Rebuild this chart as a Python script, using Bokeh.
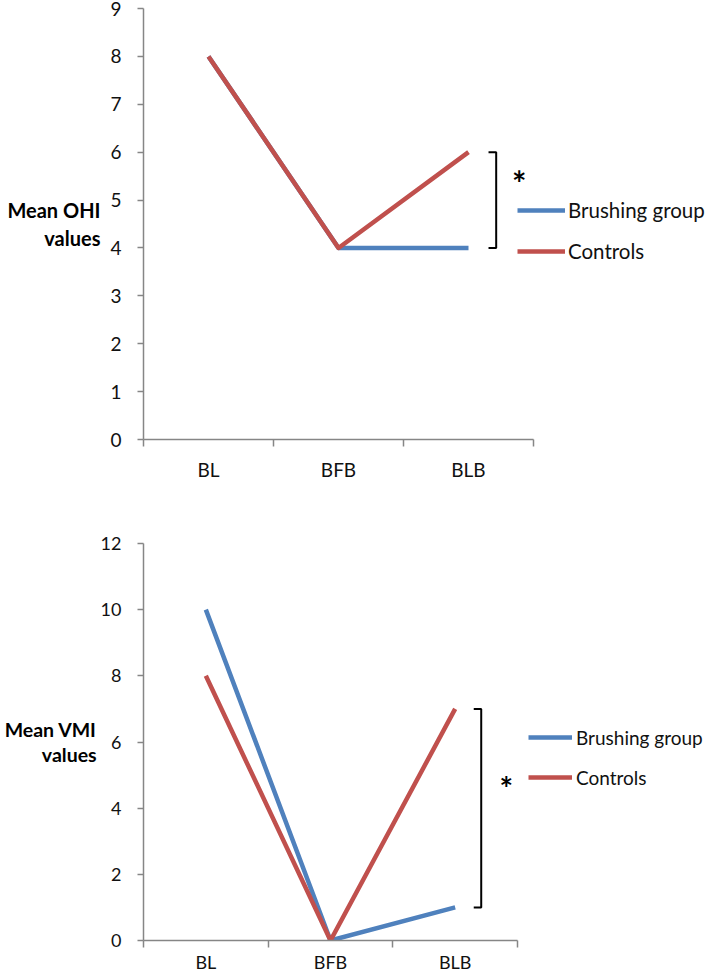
from bokeh.plotting import figure
from bokeh.layouts import column
from bokeh.models import FixedTicker, Range1d, Label, Legend, LegendItem
from bokeh.embed import file_html
from bokeh.resources import INLINE

# ---------------- data ----------------
categories = ["BL", "BFB", "BLB"]
series_names = ["Brushing group", "Controls"]
ohi_brushing = [8, 4, 4]
ohi_controls = [8, 4, 6]
vmi_brushing = [10, 0, 1]
vmi_controls = [8, 0, 7]
ohi_ticks = [0, 1, 2, 3, 4, 5, 6, 7, 8, 9]
vmi_ticks = [0, 2, 4, 6, 8, 10, 12]
ohi_title = "Mean OHI\nvalues"
vmi_title = "Mean VMI\nvalues"

COLORS = ["#4F81BD", "#C0504D"]
AXIS_COLOR = "#868686"
FONT = "Lato"


def make_panel(brushing, controls, ticks, title, cfg):
    n = len(categories)
    xs = [i + 0.5 for i in range(n)]
    frame_w = cfg["width"] - cfg["left"]
    x_end = n * frame_w / cfg["axis_w"]      # frame runs past the axis end
    p = figure(width=cfg["width"], height=cfg["height"],
               x_range=Range1d(0, x_end),
               y_range=Range1d(ticks[0], ticks[-1]),
               output_backend="svg", toolbar_location=None,
               min_border_left=cfg["left"], min_border_right=0,
               min_border_top=cfg["top"], min_border_bottom=cfg["bottom"])
    p.outline_line_color = None
    p.xgrid.visible = False
    p.ygrid.visible = False
    p.background_fill_color = "white"
    p.border_fill_color = "white"

    # y axis
    ya = p.yaxis[0]
    ya.ticker = FixedTicker(ticks=ticks)
    ya.axis_line_color = AXIS_COLOR
    ya.axis_line_width = 1.5
    ya.major_tick_line_color = AXIS_COLOR
    ya.major_tick_line_width = 1.5
    ya.major_tick_in = 0
    ya.major_tick_out = 6
    ya.minor_tick_line_color = None
    ya.major_label_standoff = 16
    ya.major_label_text_font = FONT
    ya.major_label_text_font_size = cfg["fs"]
    ya.major_label_text_color = "#111111"
    ya.axis_label = title
    ya.axis_label_orientation = "horizontal"
    ya.axis_label_standoff = cfg["tstand"]
    ya.axis_label_text_font = FONT
    ya.axis_label_text_font_style = "bold"
    ya.axis_label_text_font_size = cfg["tfs"]
    ya.axis_label_text_color = "black"
    ya.axis_label_text_line_height = cfg["tlh"]
    ya.axis_label_text_align = "center"

    # x axis (category labels centred, ticks between categories)
    xa = p.xaxis[0]
    xa.bounds = (0, n)
    xa.ticker = FixedTicker(ticks=xs, minor_ticks=list(range(n + 1)))
    xa.major_label_overrides = {x: c for x, c in zip(xs, categories)}
    xa.axis_line_color = AXIS_COLOR
    xa.axis_line_width = 1.5
    xa.major_tick_line_color = None
    xa.major_tick_in = 0
    xa.major_tick_out = 0
    xa.minor_tick_line_color = AXIS_COLOR
    xa.minor_tick_line_width = 1.5
    xa.minor_tick_in = 0
    xa.minor_tick_out = 7
    xa.major_label_standoff = cfg["xstand"]
    xa.major_label_text_font = FONT
    xa.major_label_text_font_size = cfg["fs"]
    xa.major_label_text_color = "#111111"

    r_b = p.line(xs, brushing, line_color=COLORS[0], line_width=4.5, line_join="round")
    r_c = p.line(xs, controls, line_color=COLORS[1], line_width=4.5, line_join="round")

    # significance bracket between the last values
    bx0, bx1 = cfg["bracket_x"]
    p.line([bx0, bx1, bx1, bx0], [controls[-1], controls[-1], brushing[-1], brushing[-1]],
           line_color="black", line_width=2)
    p.add_layout(Label(x=cfg["star"][0], y=cfg["star"][1], text="*",
                       text_font=FONT, text_font_style="bold",
                       text_font_size=cfg["star_fs"], text_align="center",
                       text_baseline="middle", text_color="black"))

    legend = Legend(items=[LegendItem(label=series_names[0], renderers=[r_b]),
                           LegendItem(label=series_names[1], renderers=[r_c])],
                    location=cfg["leg_loc"], padding=0, margin=0,
                    border_line_color=None, background_fill_alpha=0,
                    glyph_width=cfg["gw"], glyph_height=24, label_height=24,
                    label_standoff=cfg["lstand"], spacing=cfg["spacing"],
                    label_text_font=FONT, label_text_font_size=cfg["lfs"],
                    label_text_color="#111111")
    p.add_layout(legend)
    return p


cfg1 = dict(width=707, height=483, left=143, top=8, bottom=44, axis_w=390,
            fs="19px", xstand=11, bracket_x=(2.654, 2.713), star=(2.89, 5.37),
            star_fs="34px", tfs="20px", tstand=7, tlh=1.15,
            leg_loc=(374, 176), gw=48, lstand=3, spacing=17, lfs="20.5px")
cfg2 = dict(width=707, height=493, left=143, top=60, bottom=36, axis_w=374,
            fs="18px", xstand=3, bracket_x=(2.649, 2.709), star=(2.91, 4.6),
            star_fs="32px", tfs="19.5px", tstand=1, tlh=1.08,
            leg_loc=(385, 151), gw=44, lstand=4, spacing=16, lfs="19px")

p1 = make_panel(ohi_brushing, ohi_controls, ohi_ticks, ohi_title, cfg1)
p2 = make_panel(vmi_brushing, vmi_controls, vmi_ticks, vmi_title, cfg2)

layout = column(p1, p2, styles={"position": "absolute", "left": "0px", "top": "0px"})

open("out.html", "w").write(file_html(layout, INLINE))
